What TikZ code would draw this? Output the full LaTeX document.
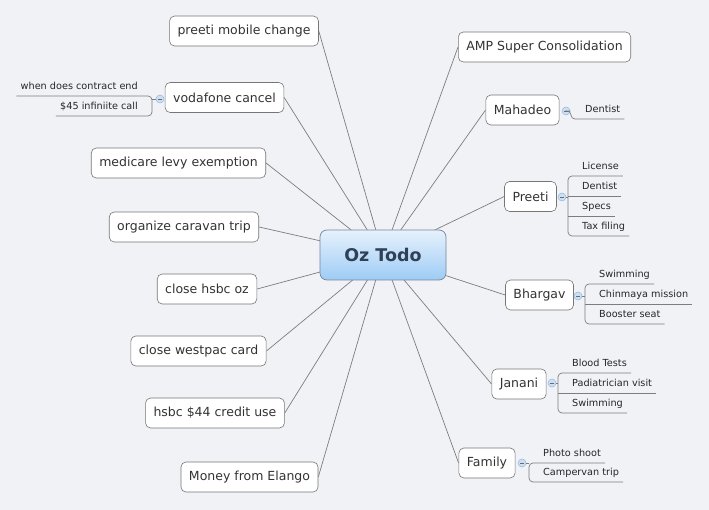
\documentclass[tikz,border=0pt]{standalone}
\usepackage{fontspec}
\setmainfont{DejaVu Sans}
\usetikzlibrary{backgrounds}

\definecolor{canvas}{RGB}{240,242,246}
\definecolor{linegray}{RGB}{125,125,125}
\definecolor{boxgray}{RGB}{118,118,118}
\definecolor{rootTop}{RGB}{230,241,252}
\definecolor{rootBot}{RGB}{158,204,245}
\definecolor{rootEdge}{RGB}{118,134,156}
\definecolor{rootText}{RGB}{47,65,86}
\definecolor{knobFill}{RGB}{206,223,243}
\definecolor{knobDraw}{RGB}{150,182,218}

\begin{document}
\begin{tikzpicture}[x=1pt, y=-1pt]

% --- Styles ---
\tikzset{
    rootTopic/.style={draw=rootEdge, line width=0.7pt, rounded corners=7pt, top color=rootTop, bottom color=rootBot,
        minimum width=126pt, minimum height=50pt, text=rootText, font=\fontsize{17.5}{20}\selectfont\bfseries},
    mainTopic/.style={draw=boxgray, fill=white, line width=0.6pt, rounded corners=5pt, minimum height=30pt,
        inner xsep=8pt, text=black!80, font=\fontsize{12.5}{15}\selectfont},
    subTopic/.style={inner xsep=4pt, inner ysep=3.5pt, text height=7.5pt, text depth=2.5pt,
        text=black!85, font=\fontsize{9.7}{11}\selectfont},
    knob/.style={circle, fill=knobFill, draw=knobDraw, line width=0.5pt, inner sep=0pt, minimum size=8pt,
        path picture={\draw[knobDraw!60!black, line width=0.4pt]
            ([xshift=-2pt]path picture bounding box.center) -- ([xshift=2pt]path picture bounding box.center);}},
    branch/.style={draw=linegray, line width=0.7pt},
    bracket/.style={branch, rounded corners=4pt},
}

\useasboundingbox (0,0) rectangle (709,510);

% --- Central topic ---
\node[rootTopic] (oz) at (383,255) {Oz Todo};

% --- Left topics ---
\node[mainTopic] (pmc)  at (244,31)    {preeti mobile change};
\node[mainTopic] (voda) at (224.5,97.5) {vodafone cancel};
\node[mainTopic] (medi) at (178.5,163) {medicare levy exemption};
\node[mainTopic] (cara) at (184,227)   {organize caravan trip};
\node[mainTopic] (hsbc) at (207,289)   {close hsbc oz};
\node[mainTopic] (west) at (198.5,351) {close westpac card};
\node[mainTopic] (cred) at (215,413)   {hsbc \$44 credit use};
\node[mainTopic] (elan) at (249.5,477) {Money from Elango};

% --- Right topics ---
\node[mainTopic] (amp)  at (544.5,47)  {AMP Super Consolidation};
\node[mainTopic] (maha) at (522.5,110) {Mahadeo};
\node[mainTopic] (pree) at (530.5,196.5) {Preeti};
\node[mainTopic] (bhar) at (539.5,295) {Bhargav};
\node[mainTopic] (jana) at (519,384)   {Janani};
\node[mainTopic] (fami) at (487,463)   {Family};

% --- Collapse knobs ---
\node[knob] (kvoda) at (160,99) {};
\node[knob] (kmaha) at (566,111) {};
\node[knob] (kpree) at (562,197) {};
\node[knob] (kbhar) at (578,296) {};
\node[knob] (kjana) at (552,383) {};
\node[knob] (kfami) at (522,463) {};

% --- Sub topics ---
\node[subTopic, anchor=south east] (wdc) at (142,96)  {when does contract end};
\node[subTopic, anchor=south east] (inf) at (142,116) {\$45 infiniite call};

\node[subTopic, anchor=south west] (mden) at (581,119) {Dentist};

\node[subTopic, anchor=south west] (lic) at (578,176) {License};
\node[subTopic, anchor=south west] (pden) at (578,196) {Dentist};
\node[subTopic, anchor=south west] (spe) at (578,216) {Specs};
\node[subTopic, anchor=south west] (tax) at (578,236) {Tax filing};

\node[subTopic, anchor=south west] (bswim) at (595,284) {Swimming};
\node[subTopic, anchor=south west] (chin) at (595,304) {Chinmaya mission};
\node[subTopic, anchor=south west] (boost) at (595,324) {Booster seat};

\node[subTopic, anchor=south west] (blood) at (568,373) {Blood Tests};
\node[subTopic, anchor=south west] (padi) at (568,393) {Padiatrician visit};
\node[subTopic, anchor=south west] (jswim) at (568,413) {Swimming};

\node[subTopic, anchor=south west] (photo) at (539,463) {Photo shoot};
\node[subTopic, anchor=south west] (camp) at (539,482) {Campervan trip};

% --- Sub topic brackets ---
\draw[bracket] (wdc.south west) -- ([xshift=10pt]wdc.south east) |- (inf.south west);
\draw[branch] (kvoda.west) -- ([xshift=10pt]inf.south east |- kvoda.west);

\draw[bracket] (kmaha.east) -| ([xshift=-10pt]mden.south west) -- (mden.south east);

\draw[bracket] (lic.south east) -- ([xshift=-10pt]lic.south west) |- (tax.south east);
\draw[branch] ([xshift=-10pt]pden.south west) -- (pden.south east);
\draw[branch] ([xshift=-10pt]spe.south west) -- (spe.south east);
\draw[branch] (kpree.east) -- ([xshift=-10pt]pden.south west |- kpree.east);

\draw[bracket] (bswim.south east) -- ([xshift=-10pt]bswim.south west) |- (boost.south east);
\draw[branch] ([xshift=-10pt]chin.south west) -- (chin.south east);
\draw[branch] (kbhar.east) -- ([xshift=-10pt]chin.south west |- kbhar.east);

\draw[bracket] (blood.south east) -- ([xshift=-10pt]blood.south west) |- (jswim.south east);
\draw[branch] ([xshift=-10pt]padi.south west) -- (padi.south east);
\draw[branch] (kjana.east) -- ([xshift=-10pt]padi.south west |- kjana.east);

\draw[bracket] (photo.south east) -- ([xshift=-10pt]photo.south west) |- (camp.south east);
\draw[branch] (kfami.east) -- ([xshift=-10pt]photo.south west |- kfami.east);

% --- Canvas and main branches (behind the boxes) ---
\begin{scope}[on background layer]
    \fill[canvas] (0,0) rectangle (709,510);
    \foreach \t in {pmc, voda, medi, cara, hsbc, west, cred, elan}
        \draw[branch] (oz.center) -- (\t.east);
    \foreach \t in {amp, maha, pree, bhar, jana, fami}
        \draw[branch] (oz.center) -- (\t.west);
\end{scope}

\end{tikzpicture}
\end{document}
